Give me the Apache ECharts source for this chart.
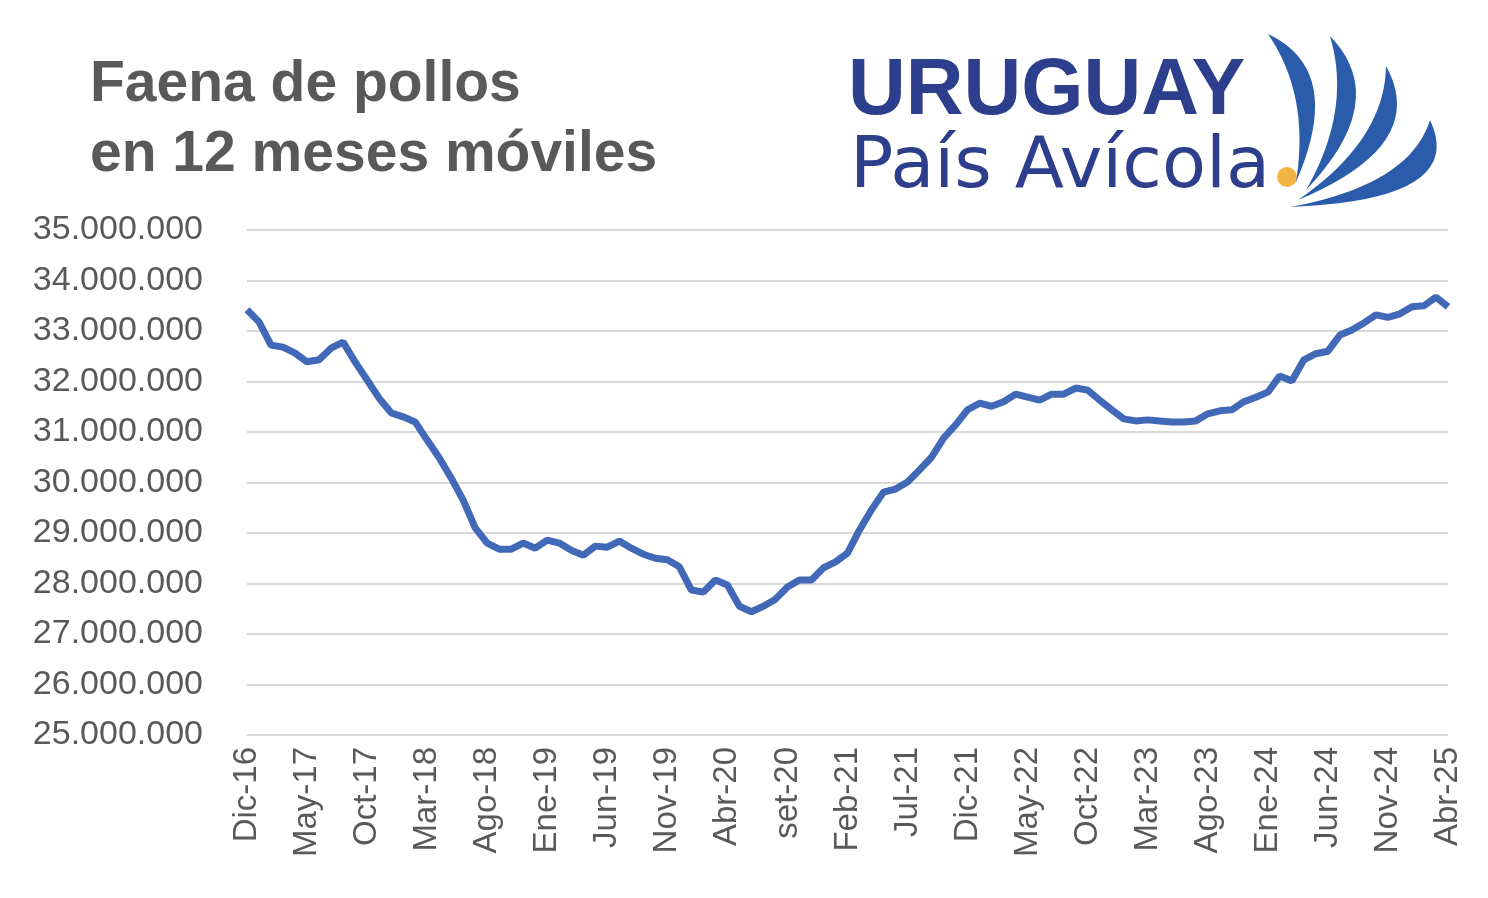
<!DOCTYPE html>
<html lang="es">
<head>
  <meta charset="UTF-8">
  <title>Faena de pollos en 12 meses móviles</title>
  <script src="https://cdn.jsdelivr.net/npm/echarts@6.0.0/dist/echarts.min.js"></script>
  <style>html,body{margin:0;background:#fff}</style>
</head>
<body>
  <div id="main" style="width: 1488px; height: 898px;"></div>
  <script>
    // Month labels (Dic-16 .. Abr-25), only every 5th is shown
    const meses = ['Ene','Feb','Mar','Abr','May','Jun','Jul','Ago','set','Oct','Nov','Dic'];
    const categories = [];
    for (let i = 0; i <= 100; i++) {
      const m = (11 + i) % 12, y = 16 + Math.floor((11 + i) / 12);
      categories.push(meses[m] + '-' + y);
    }

    // slaughter, millions of birds, rolling 12 months
    const faena = [
      33.42, 33.18, 32.72, 32.68, 32.56, 32.39, 32.43, 32.66, 32.78, 32.39,
      32.03, 31.67, 31.38, 31.30, 31.20, 30.84, 30.49, 30.09, 29.65, 29.10,
      28.80, 28.68, 28.68, 28.80, 28.70, 28.86, 28.80, 28.66, 28.56, 28.74,
      28.72, 28.84, 28.70, 28.58, 28.50, 28.47, 28.33, 27.87, 27.83, 28.07,
      27.97, 27.55, 27.44, 27.55, 27.69, 27.93, 28.07, 28.07, 28.31, 28.43,
      28.60, 29.06, 29.46, 29.81, 29.87, 30.01, 30.25, 30.50, 30.88, 31.14,
      31.44, 31.57, 31.51, 31.60, 31.75, 31.69, 31.63, 31.75, 31.75, 31.87,
      31.83, 31.63, 31.44, 31.26, 31.22, 31.24, 31.22, 31.20, 31.20, 31.22,
      31.36, 31.42, 31.44, 31.60, 31.69, 31.79, 32.11, 32.01, 32.43, 32.55,
      32.60, 32.92, 33.02, 33.16, 33.32, 33.27, 33.34, 33.48, 33.50, 33.67,
      33.48
    ];

    // crescent for the logo: two quadratic curves sharing end points
    function crescent(a, c1, c2, b) {
      const pts = [];
      const q = (p0, p1, p2, t) => [
        (1 - t) * (1 - t) * p0[0] + 2 * (1 - t) * t * p1[0] + t * t * p2[0],
        (1 - t) * (1 - t) * p0[1] + 2 * (1 - t) * t * p1[1] + t * t * p2[1]
      ];
      for (let t = 0; t <= 1.0001; t += 0.05) pts.push(q(a, c1, b, t));
      for (let t = 1; t >= -0.0001; t -= 0.05) pts.push(q(a, c2, b, t));
      return { type: 'polygon', shape: { points: pts }, style: { fill: '#2a5cab' } };
    }

    const chart = echarts.init(document.getElementById('main'));
    const gray = '#595959';
    const blue = '#2d3e8c';

    chart.setOption({
      animation: false,
      grid: { left: 247, right: 40, top: 230, bottom: 163 },
      xAxis: {
        type: 'category',
        data: categories,
        boundaryGap: false,
        axisLine: { lineStyle: { color: '#d9d9d9' } },
        axisTick: { show: false },
        axisLabel: {
          interval: 4, rotate: 90, color: gray, margin: 12,
          fontFamily: 'Liberation Sans Narrow, Liberation Sans', fontSize: 33
        }
      },
      yAxis: {
        type: 'value', min: 25000000, max: 35000000, interval: 1000000,
        axisLine: { show: false },
        axisTick: { show: false },
        splitLine: { lineStyle: { color: '#d9d9d9', width: 2 } },
        axisLabel: {
          color: gray, fontFamily: 'Liberation Sans Narrow, Liberation Sans', fontSize: 34, margin: 44,
          formatter: v => v.toFixed(0).replace(/\B(?=(\d{3})+(?!\d))/g, '.')
        }
      },
      series: [{
        type: 'line',
        data: faena.map(v => Math.round(v * 1e6)),
        showSymbol: false,
        lineStyle: { color: '#4169b8', width: 7 }
      }],
      graphic: [
        { type: 'text', x: 90, y: 50, style: { text: 'Faena de pollos\nen 12 meses móviles', fill: gray,
          font: 'bold 57px "Liberation Sans"', lineHeight: 70 } },
        { type: 'text', x: 848, y: 52, style: { text: 'URUGUAY', fill: blue, font: 'bold 80px "Liberation Sans"' } },
        { type: 'text', x: 850, y: 132, style: { text: 'País Avícola', fill: blue, font: '72px "DejaVu Sans"' } },
        { type: 'circle', shape: { cx: 1287, cy: 177, r: 10 }, style: { fill: '#f2b443' } },
        crescent([1268, 34], [1345, 70], [1310, 95], [1296, 182]),
        crescent([1330, 36], [1392, 100], [1352, 110], [1306, 190]),
        crescent([1386, 66], [1430, 145], [1385, 140], [1298, 200]),
        crescent([1430, 120], [1468, 200], [1410, 185], [1290, 207])
      ]
    });
  </script>
</body>
</html>
